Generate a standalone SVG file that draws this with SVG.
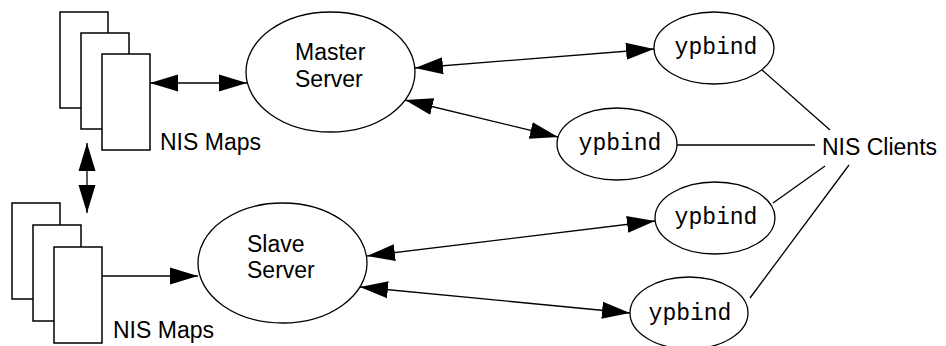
<svg xmlns="http://www.w3.org/2000/svg" width="946" height="346" viewBox="0 0 946 346">
<style>
.map{fill:#fff;stroke:#000;stroke-width:1.5}
.node{fill:#fff;stroke:#000;stroke-width:1.3}
.lbl{font-family:"Liberation Sans",Arial,sans-serif;font-size:23px;fill:#000}
.mono{font-family:"Liberation Mono","Courier New",monospace;font-size:23px;fill:#000;text-anchor:middle}
.con{fill:none;stroke:#000;stroke-width:1.3}
.arr{marker-end:url(#ah)}
.dbl{marker-start:url(#ah);marker-end:url(#ah)}
</style>
<defs>
<marker id="ah" markerUnits="userSpaceOnUse" markerWidth="28" markerHeight="18" refX="28" refY="9" orient="auto-start-reverse" viewBox="0 0 28 18">
<path d="M0,0.5 L28,9 L0,17.5 z" fill="#000"/>
</marker>
</defs>
<rect width="946" height="346" fill="#fff"/>
<g id="maps-top">
<rect class="map" x="60" y="12" width="48" height="96"/>
<rect class="map" x="81" y="33" width="48" height="96"/>
<rect class="map" x="102" y="54" width="48" height="96"/>
<text class="lbl" x="160" y="150">NIS Maps</text>
</g>
<g id="maps-bottom">
<rect class="map" x="12" y="203" width="48" height="96"/>
<rect class="map" x="33" y="225" width="48" height="96"/>
<rect class="map" x="54" y="247" width="48" height="96"/>
<text class="lbl" x="113" y="338">NIS Maps</text>
</g>
<g id="master">
<ellipse class="node" cx="330.5" cy="72" rx="84.5" ry="60"/>
<text class="lbl" x="295" y="60">Master</text>
<text class="lbl" x="295" y="87">Server</text>
</g>
<g id="slave">
<ellipse class="node" cx="282.5" cy="263" rx="84.5" ry="60"/>
<text class="lbl" x="247" y="252">Slave</text>
<text class="lbl" x="247" y="278">Server</text>
</g>
<g id="ypbind1">
<ellipse class="node" cx="714" cy="48" rx="60" ry="36"/>
<text class="mono" x="716" y="54">ypbind</text>
</g>
<g id="ypbind2">
<ellipse class="node" cx="617" cy="144" rx="60" ry="36"/>
<text class="mono" x="620" y="150">ypbind</text>
</g>
<g id="ypbind3">
<ellipse class="node" cx="715" cy="218" rx="60" ry="36"/>
<text class="mono" x="716" y="224">ypbind</text>
</g>
<g id="ypbind4">
<ellipse class="node" cx="689" cy="313" rx="59" ry="36"/>
<text class="mono" x="690" y="320">ypbind</text>
</g>
<g id="clients">
<text class="lbl" x="822" y="155">NIS Clients</text>
</g>
<g id="connectors">
<line class="con dbl" x1="150" y1="83" x2="247" y2="83"/>
<line class="con dbl" x1="87" y1="143" x2="87" y2="213"/>
<line class="con arr" x1="102" y1="276" x2="198" y2="276"/>
<line class="con dbl" x1="415" y1="68" x2="654" y2="49"/>
<line class="con dbl" x1="405" y1="100" x2="558" y2="137"/>
<line class="con dbl" x1="367" y1="256" x2="655" y2="221"/>
<line class="con dbl" x1="360" y1="287" x2="630" y2="313"/>
<line class="con" x1="762" y1="70" x2="830" y2="130"/>
<line class="con" x1="677" y1="145" x2="815" y2="145"/>
<line class="con" x1="773" y1="203" x2="825" y2="166"/>
<line class="con" x1="750" y1="298" x2="849" y2="165"/>
</g>
</svg>
